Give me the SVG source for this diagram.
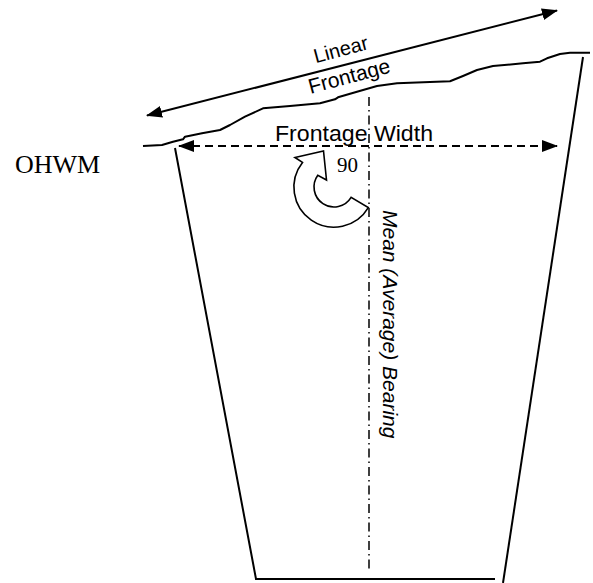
<svg xmlns="http://www.w3.org/2000/svg" width="593" height="583" viewBox="0 0 593 583">
<style>
.ln{fill:none;stroke:#000;stroke-width:2}
.sans{font-family:"Liberation Sans",Arial,sans-serif;fill:#000}
.serif{font-family:"Liberation Serif","Times New Roman",serif;fill:#000}
</style>
<defs>
<marker id="ah" viewBox="0 0 16 12" refX="15" refY="6" markerWidth="16" markerHeight="12" markerUnits="userSpaceOnUse" orient="auto-start-reverse">
<path d="M0,0 L16,6 L0,12 Z" fill="#000"/>
</marker>
</defs>
<rect width="593" height="583" fill="#fff"/>
<g id="lot">
<path class="ln" d="M175,148 L256,579 L495,579"/>
<path class="ln" d="M583,57 L503,583"/>
</g>
<g id="shoreline">
<path class="ln" d="M143,146 L162,145 L173,141.7 L183,139.3 L185,136.7 L202,133.3 L220,130 L230,125 L245,116.7 L263,108.3 L290,106 L320,103.3 L335,99.3 L338,97.3 L357,91.7 L377,86 L397,83.3 L430,82 L450,81.3 L463,76 L477,70 L493,66 L523,63.3 L540,61.7 L547,58.3 L560,54 L570,52.7 L590,52.7" stroke-linejoin="round"/>
</g>
<g id="connectors">
<line class="ln" x1="147" y1="115.5" x2="557" y2="10.5" marker-start="url(#ah)" marker-end="url(#ah)"/>
<line class="ln" x1="179" y1="146" x2="557" y2="146" stroke-dasharray="8 5" marker-start="url(#ah)" marker-end="url(#ah)"/>
<line x1="369" y1="97" x2="369" y2="570" stroke="#000" stroke-width="1.5" stroke-dasharray="9 4 1.5 4"/>
</g>
<g id="angle">
<path d="M295,157.5 L323.5,151 L326.5,180 L317.8,175.2 A20,20 0 1 0 351.1,197.3 L368.3,207.6 A40,40 0 1 1 302.5,162.4 Z" fill="#fff" stroke="#000" stroke-width="1.6" stroke-linejoin="miter"/>
<text class="serif" x="337" y="172" font-size="21">90</text>
</g>
<g id="labels">
<text class="sans" font-size="20" text-anchor="middle" transform="translate(342.5,56) rotate(-15)">Linear</text>
<text class="sans" font-size="21" text-anchor="middle" transform="translate(351,83) rotate(-15)">Frontage</text>
<text class="sans" x="275" y="141" font-size="22" textLength="158" lengthAdjust="spacingAndGlyphs">Frontage Width</text>
<text class="sans" font-size="21" font-style="italic" transform="translate(383,210) rotate(90)">Mean (Average) Bearing</text>
<text class="serif" x="15" y="173" font-size="26">OHWM</text>
</g>
</svg>
